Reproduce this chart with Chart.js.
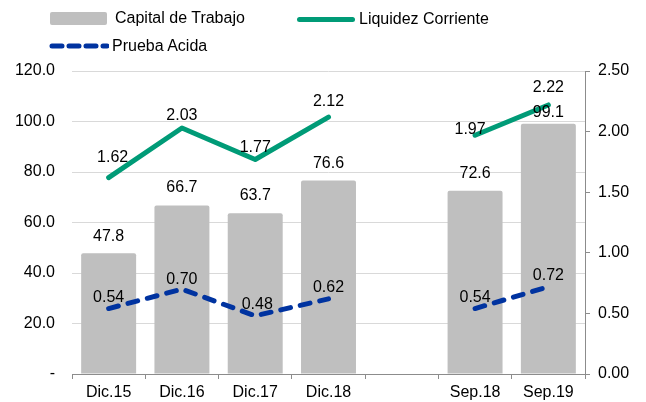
<!DOCTYPE html>
<html>
<head>
<meta charset="utf-8">
<script src="https://cdn.jsdelivr.net/npm/chart.js@4/dist/chart.umd.min.js"></script>
<style>
  body { margin: 0; background: #fff; font-family: "Liberation Sans", Arial, sans-serif; }
  #wrap { position: relative; width: 646px; height: 402px; }
  #chart { position: absolute; left: 0; top: 0; }
  .lg { position: absolute; font-size: 16px; color: #000; line-height: 18px; }
</style>
</head>
<body>
<div id="wrap">
  <canvas id="chart" width="646" height="402"></canvas>
  <div class="lg" style="left:50px;top:12px;width:57px;height:13px;background:#bfbfbf;border-radius:2px;"></div>
  <div class="lg" style="left:115px;top:9px;">Capital de Trabajo</div>
  <div class="lg" style="left:297px;top:17px;width:58px;height:5px;background:#009b77;border-radius:3px;"></div>
  <div class="lg" style="left:359px;top:10px;">Liquidez Corriente</div>
  <canvas id="dash" class="lg" width="60" height="10" style="left:49px;top:41px;"></canvas>
  <div class="lg" style="left:112px;top:37px;">Prueba Acida</div>
</div>
<script>
// categories (empty slot between the annual and the september figures)
const categories = ['Dic.15', 'Dic.16', 'Dic.17', 'Dic.18', '', 'Sep.18', 'Sep.19'];
const capitalTrabajo = [47.8, 66.7, 63.7, 76.6, null, 72.6, 99.1];
const liquidezCorriente = [1.62, 2.03, 1.77, 2.12, null, 1.97, 2.22];
const pruebaAcida = [0.54, 0.70, 0.48, 0.62, null, 0.54, 0.72];
const leftTicks = [0, 20, 40, 60, 80, 100, 120];
const rightTicks = [0, 0.5, 1, 1.5, 2, 2.5];

const green = '#009b77';
const blue = '#0033a0';
const font = '"Liberation Sans", Arial, sans-serif';

// legend dash sample
const dctx = document.getElementById('dash').getContext('2d');
dctx.strokeStyle = blue;
dctx.lineWidth = 5;
dctx.lineCap = 'round';
dctx.setLineDash([10, 7]);
dctx.beginPath();
dctx.moveTo(3, 5);
dctx.lineTo(58, 5);
dctx.stroke();

// value labels drawn over the marks
const valueLabels = {
    id: 'valueLabels',
    afterDatasetsDraw(chart) {
        const ctx = chart.ctx;
        ctx.save();
        ctx.font = '16px ' + font;
        ctx.fillStyle = '#000';
        ctx.textAlign = 'center';
        ctx.textBaseline = 'middle';
        chart.data.datasets.forEach((ds, i) => {
            const meta = chart.getDatasetMeta(i);
            meta.data.forEach((el, j) => {
                const v = ds.data[j];
                if (v === null) return;
                const txt = ds.yAxisID === 'y' ? v.toFixed(1) : v.toFixed(2);
                const off = ds.labelOffset ? ds.labelOffset[j] : [0, -14];
                ctx.fillText(txt, el.x + off[0], el.y + off[1]);
            });
        });
        ctx.restore();
    }
};

const ctx = document.getElementById('chart').getContext('2d');
const chart = new Chart(ctx, {
    type: 'bar',
    data: {
        labels: categories,
        datasets: [{
            type: 'line',
            label: 'Liquidez Corriente',
            data: liquidezCorriente,
            yAxisID: 'y2',
            borderColor: green,
            borderWidth: 5,
            borderCapStyle: 'round',
            borderJoinStyle: 'round',
            pointRadius: 0,
            spanGaps: false,
            labelOffset: [[4, -20], [0, -12], [0, -12], [0, -15], [0, 0], [-5, -6], [0, -17]],
            order: 1
        }, {
            type: 'line',
            label: 'Prueba Acida',
            data: pruebaAcida,
            yAxisID: 'y2',
            borderColor: blue,
            borderWidth: 5,
            borderCapStyle: 'round',
            borderJoinStyle: 'round',
            borderDash: [10, 10],
            pointRadius: 0,
            spanGaps: false,
            labelOffset: [[0, -11], [0, -10], [2, -11], [0, -11], [0, 0], [0, -11], [0, -11]],
            order: 2
        }, {
            label: 'Capital de Trabajo',
            data: capitalTrabajo,
            yAxisID: 'y',
            backgroundColor: '#bfbfbf',
            borderRadius: 2,
            barPercentage: 0.75,
            categoryPercentage: 1,
            labelOffset: [[0, -17], [0, -18], [0, -18], [0, -17], [0, 0], [0, -17], [0, -11]],
            order: 3
        }]
    },
    options: {
        responsive: false,
        animation: false,
        layout: { padding: { top: 71, bottom: 0, left: 0, right: 0 } },
        plugins: {
            legend: { display: false },
            tooltip: { enabled: false }
        },
        scales: {
            x: {
                grid: {
                    offset: true,
                    drawOnChartArea: false,
                    drawTicks: true,
                    tickLength: 5,
                    color: '#8c8c8c'
                },
                border: { color: '#8c8c8c', width: 1 },
                ticks: { color: '#000', font: { family: font, size: 16 }, padding: 4, maxRotation: 0 },
                afterFit: (s) => { s.height = 28; }
            },
            y: {
                position: 'left',
                min: 0,
                max: 120,
                afterBuildTicks: (s) => { s.ticks = leftTicks.map(v => ({ value: v })); },
                grid: { color: '#d9d9d9', drawTicks: false },
                border: { display: false },
                ticks: {
                    color: '#000',
                    font: { family: font, size: 16 },
                    padding: 17,
                    callback: (v) => v === 0 ? '-' : v.toFixed(1)
                },
                afterFit: (s) => { s.width = 72; }
            },
            y2: {
                position: 'right',
                min: 0,
                max: 2.5,
                afterBuildTicks: (s) => { s.ticks = rightTicks.map(v => ({ value: v })); },
                grid: { drawOnChartArea: false, drawTicks: true, tickLength: 5, color: '#8c8c8c' },
                border: { color: '#8c8c8c', width: 1 },
                ticks: {
                    color: '#000',
                    font: { family: font, size: 16 },
                    padding: 8,
                    callback: (v) => v.toFixed(2)
                },
                afterFit: (s) => { s.width = 61; }
            }
        }
    },
    plugins: [valueLabels]
});
</script>
</body>
</html>
